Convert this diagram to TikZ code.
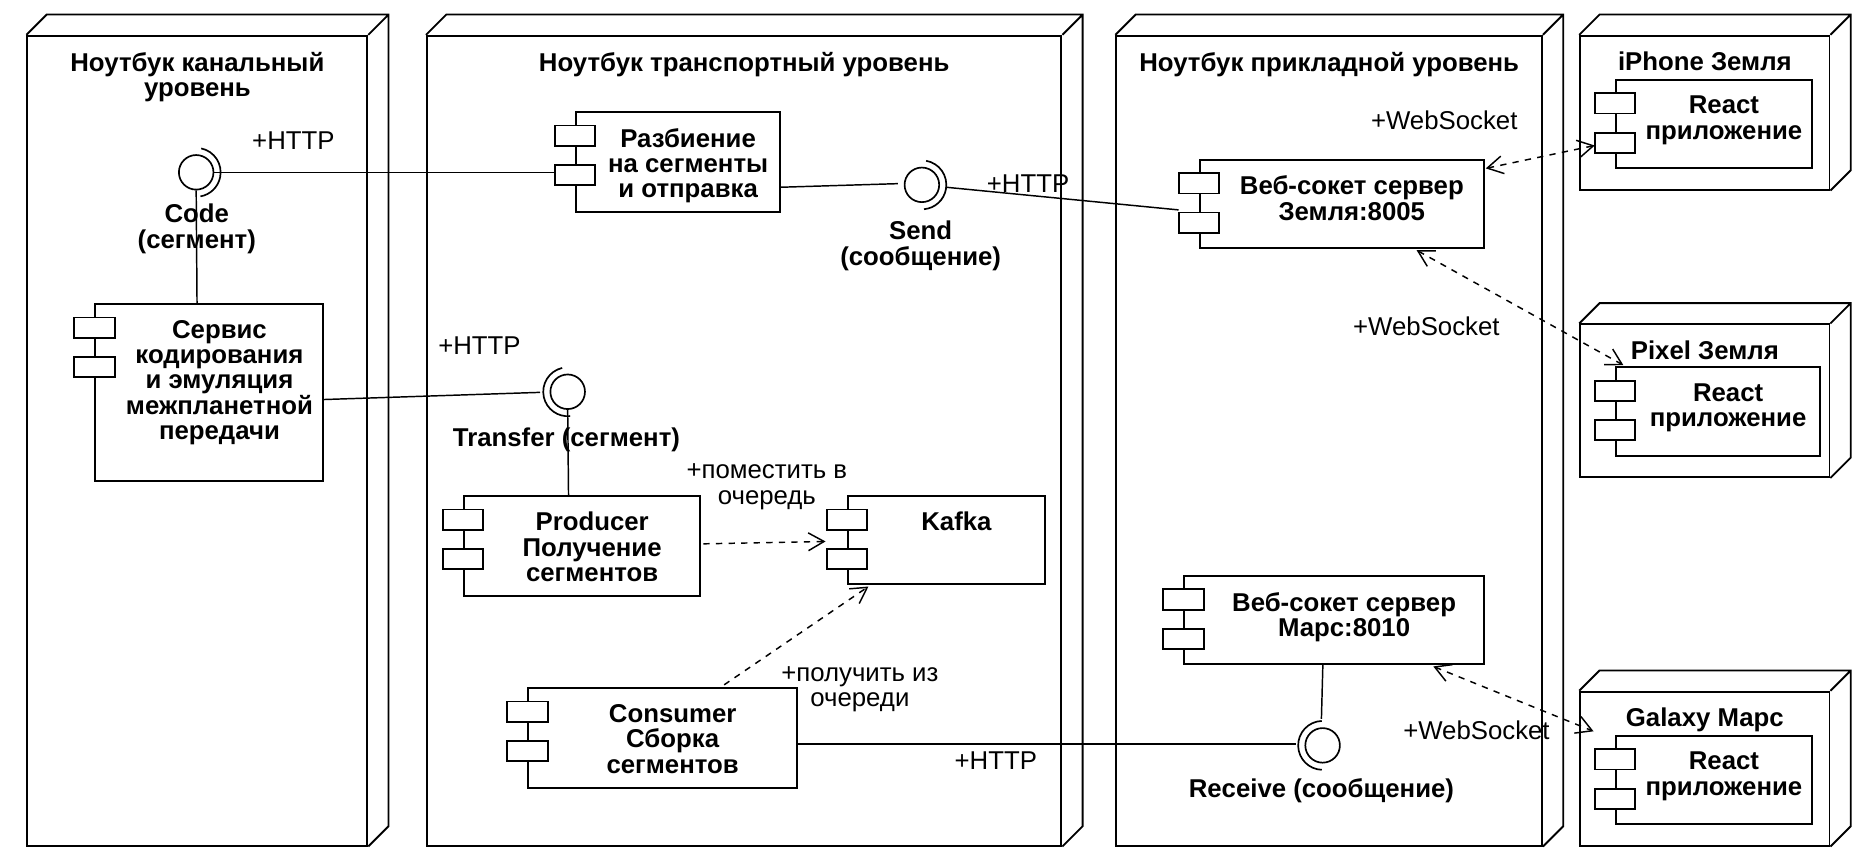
\documentclass[tikz,border=0pt]{standalone}
\usepackage{fontspec}
\setmainfont{Liberation Sans}
\usetikzlibrary{arrows.meta,calc,fit}

\begin{document}
\begin{tikzpicture}[x=0.02cm,y=-0.02cm,
	every node/.style={font=\fontsize{12.3}{12.1}\selectfont},
	face/.style={draw,line width=0.9pt,inner sep=0pt},
	comp/.style={draw,line width=0.9pt,inner sep=0pt},
	port/.style={draw,fill=white,line width=0.9pt},
	iface/.style={draw,circle,line width=0.8pt,minimum size=0.58cm,inner sep=0pt},
	link/.style={line width=0.7pt},
	dep/.style={line width=0.7pt,dashed,-{Straight Barb[length=7.5pt,width=8.5pt]}},
	dep2/.style={dep,{Straight Barb[length=7.5pt,width=8.5pt]}-{Straight Barb[length=7.5pt,width=8.5pt]}},
	title/.style={font=\fontsize{12.3}{12.1}\selectfont\bfseries,align=center,anchor=north,inner sep=0pt},
	lbl/.style={inner sep=0pt},
	blbl/.style={font=\fontsize{12.3}{12.1}\selectfont\bfseries,align=center,inner sep=0pt}]
	\useasboundingbox (0,0) rectangle (1568,726);
	
	% deployment nodes
	\node[face,fit={(23,30) (308,709)}] (ch) {};
	\node[face,fit={(358,30) (890,709)}] (tr) {};
	\node[face,fit={(936,30) (1293,709)}] (ap) {};
	\node[face,fit={(1325,30) (1534,159)}] (iph) {};
	\node[face,fit={(1325,272) (1534,400)}] (pix) {};
	\node[face,fit={(1325,580) (1534,709)}] (gal) {};
	\foreach \n in {ch,tr,ap,iph,pix,gal}
		\draw[line width=0.9pt] (\n.north west) -- ++(17,-17) -| ($(\n.south east)+(17,-17)$) -- (\n.south east) (\n.north east) -- ++(17,-17);
	
	\node[title] (ch-t) at ($(ch.north)+(0,14)$) {Ноутбук канальный\\уровень};
	\node[title] (tr-t) at ($(tr.north)+(0,14)$) {Ноутбук транспортный уровень};
	\node[title] (ap-t) at ($(ap.north)+(0,14)$) {Ноутбук прикладной уровень};
	\node[title] (iph-t) at ($(iph.north)+(0,14)$) {iPhone Земля};
	\node[title] (pix-t) at ($(pix.north)+(0,14)$) {Pixel Земля};
	\node[title] (gal-t) at ($(gal.north)+(0,14)$) {Galaxy Марс};
	
	% components
	\node[comp,fit={(80,255) (271,403)}] (srv) {};
	\node[comp,fit={(483,94) (654,178)}] (split) {};
	\node[comp,fit={(389,416) (587,500)}] (prod) {};
	\node[comp,fit={(711,416) (876,490)}] (kafka) {};
	\node[comp,fit={(443,577) (668,661)}] (cons) {};
	\node[comp,fit={(1006,134) (1244,208)}] (wse) {};
	\node[comp,fit={(993,483) (1244,557)}] (wsm) {};
	\node[comp,fit={(1355,67) (1519,141)}] (ri) {};
	\node[comp,fit={(1355,308) (1526,382)}] (rp) {};
	\node[comp,fit={(1355,617) (1519,691)}] (rg) {};
	\foreach \n/\t in {srv/{Сервис\\кодирования\\и эмуляция\\межпланетной\\передачи},
		split/{Разбиение\\на сегменты\\и отправка},
		prod/{Producer\\Получение\\сегментов},
		kafka/{Kafka},
		cons/{Consumer\\Сборка\\сегментов},
		wse/{Веб-сокет сервер\\Земля:8005},
		wsm/{Веб-сокет сервер\\Марс:8010},
		ri/{React\\приложение},
		rp/{React\\приложение},
		rg/{React\\приложение}}
		\node[title] (\n-t) at ($(\n.north)+(8.5,14)$) {\t};
	
	% interfaces
	\node[iface] (code) at (164.5,144.5) {};
	\node[iface] (send) at (773,155) {};
	\node[iface] (transfer) at (476,328.5) {};
	\node[iface] (receive) at (1109,625) {};
	\draw[line width=0.8pt] (code.center) ++(78:0.41cm) arc[start angle=78,end angle=-80,radius=0.41cm];
	\draw[line width=0.8pt] (send.center) ++(80:0.41cm) arc[start angle=80,end angle=-85,radius=0.41cm];
	\draw[line width=0.8pt] (transfer.center) ++(103:0.41cm) arc[start angle=103,end angle=276,radius=0.41cm];
	\draw[line width=0.8pt] (receive.center) ++(92:0.41cm) arc[start angle=92,end angle=268,radius=0.41cm];
	
	% connectors
	\draw[link] (code.east) -- (code.east -| split.west);
	\draw[link] ($(split.east)+(0,21)$) -- ($(send.west)+(-5,-1)$);
	\draw[link] ($(send.east)+(5,2)$) -- ($(wse.west)+(-17,5)$);
	\draw[link] ($(srv.east)+(0,6)$) -- ($(transfer.west)+(-8,0.5)$);
	\draw[link] (transfer.south) -- ($(prod.north west)+(88.5,0)$);
	\draw[link] (code.south) -- ($(srv.north west)+(86,0)$);
	\draw[link] ($(wsm.south west)+(117,0)$) -- ($(receive.north)+(-1,-7)$);
	\draw[link] ($(cons.east)+(0,5)$) -- ($(receive.west)+(-7,-1)$);
	
	\draw[dep] ($(prod.east)+(2,-2)$) -- ($(kafka.west)+(-18,1)$);
	\draw[dep] ($(cons.north west)+(165,-2)$) -- ($(kafka.south west)+(18,1)$);
	\draw[dep2] ($(wse.north east)+(1,8)$) -- ($(ri.west)+(-17,18)$);
	\draw[dep2] ($(wse.south east)+(-57,1)$) -- ($(rp.north west)+(7,-1)$);
	\draw[dep2] ($(wsm.south east)+(-43,1)$) -- ($(rg.north west)+(-18,-3)$);
	
	% ports
	\foreach \n in {srv,split,prod,kafka,cons,wse,wsm,ri,rp,rg} {
		\draw[port] ($(\n.north west)+(-17,12)$) rectangle ++(34,17);
		\draw[port] ($(\n.north west)+(-17,45)$) rectangle ++(34,17);
	}
	
	% labels
	\node[lbl] (http1) at (246,118) {+HTTP};
	\node[blbl] (code-l) at (165,192) {Code\\(сегмент)};
	\node[lbl] (http2) at (862,154) {+HTTP};
	\node[blbl] (send-l) at (772,206) {Send\\(сообщение)};
	\node[lbl] (http3) at (402,290) {+HTTP};
	\node[blbl] (transfer-l) at (475,368.5) {Transfer (сегмент)};
	\node[lbl,align=center] (put-l) at (643,408) {+поместить в\\очередь};
	\node[lbl,align=center] (get-l) at (721,578) {+получить из\\очереди};
	\node[lbl] (http4) at (835,638) {+HTTP};
	\node[blbl] (receive-l) at (1108,663) {Receive (сообщение)};
	\node[lbl] (ws1) at (1211,101) {+WebSocket};
	\node[lbl] (ws2) at (1196,274) {+WebSocket};
	\node[lbl] (ws3) at (1238,612) {+WebSocket};
\end{tikzpicture}
\end{document}
